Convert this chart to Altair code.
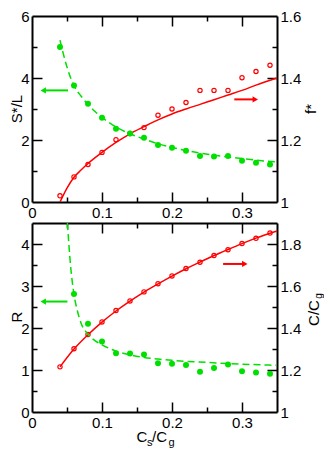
import altair as alt
import pandas as pd

# ---------------- data ----------------
# top panel
top_x_pts = [0.04, 0.06, 0.08, 0.10, 0.12, 0.14, 0.16, 0.18, 0.20, 0.22, 0.24, 0.26, 0.28, 0.30, 0.32, 0.34]
top_S_pts = [5.00, 3.76, 3.17, 2.72, 2.36, 2.21, 2.07, 1.84, 1.75, 1.65, 1.48, 1.47, 1.48, 1.33, 1.27, 1.21]
top_f_pts = [1.020, 1.081, 1.121, 1.160, 1.201, 1.221, 1.240, 1.280, 1.300, 1.321, 1.360, 1.360, 1.360, 1.401, 1.421, 1.441]

top_S_curve_x = [0.04, 0.05, 0.06, 0.07, 0.08, 0.09, 0.10, 0.12, 0.14, 0.16, 0.18, 0.20, 0.22, 0.24, 0.26, 0.28, 0.30, 0.32, 0.35]
top_S_curve_y = [5.22, 4.35, 3.75, 3.42, 3.15, 2.92, 2.73, 2.42, 2.20, 2.03, 1.88, 1.76, 1.66, 1.58, 1.51, 1.45, 1.40, 1.35, 1.29]

top_f_curve_x = [0.04, 0.05, 0.06, 0.07, 0.08, 0.10, 0.12, 0.14, 0.16, 0.18, 0.20, 0.22, 0.24, 0.26, 0.28, 0.30, 0.32, 0.35]
top_f_curve_y = [1.000, 1.045, 1.080, 1.103, 1.124, 1.160, 1.192, 1.220, 1.243, 1.265, 1.284, 1.300, 1.315, 1.330, 1.345, 1.360, 1.377, 1.400]

# bottom panel
bot_x_R_pts = [0.06, 0.08, 0.10, 0.12, 0.14, 0.16, 0.18, 0.20, 0.22, 0.24, 0.26, 0.28, 0.30, 0.32, 0.34]
bot_R_pts = [2.81, 2.10, 1.68, 1.40, 1.39, 1.37, 1.16, 1.15, 1.12, 0.96, 1.05, 1.13, 0.97, 0.94, 0.91]
bot_x_C_pts = [0.04, 0.06, 0.08, 0.10, 0.12, 0.14, 0.16, 0.18, 0.20, 0.22, 0.24, 0.26, 0.28, 0.30, 0.32, 0.34]
bot_C_pts = [1.215, 1.301, 1.369, 1.429, 1.483, 1.529, 1.572, 1.611, 1.648, 1.683, 1.713, 1.745, 1.773, 1.802, 1.827, 1.852]

bot_R_curve_x = [0.0506, 0.055, 0.06, 0.065, 0.07, 0.08, 0.09, 0.10, 0.12, 0.14, 0.16, 0.18, 0.20, 0.25, 0.30, 0.35]
bot_R_curve_y = [4.50, 3.50, 2.80, 2.40, 2.12, 1.85, 1.70, 1.60, 1.45, 1.36, 1.30, 1.26, 1.23, 1.18, 1.14, 1.11]

bot_C_curve_x = [0.04, 0.06, 0.08, 0.10, 0.12, 0.14, 0.16, 0.18, 0.20, 0.22, 0.24, 0.26, 0.28, 0.30, 0.32, 0.35]
bot_C_curve_y = [1.215, 1.300, 1.368, 1.428, 1.481, 1.528, 1.571, 1.610, 1.647, 1.682, 1.714, 1.745, 1.774, 1.802, 1.828, 1.862]

# arrows: [x_start, x_head], y level
top_green_arrow_x = [0.0514, 0.016]
top_green_arrow_y = 3.6
top_red_arrow_x = [0.289, 0.319]
top_red_arrow_y = 1.331
bot_green_arrow_x = [0.0506, 0.016]
bot_green_arrow_y = 2.63
bot_red_arrow_x = [0.273, 0.304]
bot_red_arrow_y = 1.705

# axis tick values
x_labels = [0, 0.1, 0.2, 0.3]
x_major = [0.1, 0.2, 0.3]
x_minor = [0.05, 0.15, 0.25]
S_labels = [0, 2, 4, 6]
S_major = [2, 4]
S_minor = [1, 3, 5]
f_labels = [1, 1.2, 1.4, 1.6]
f_major = [1.2, 1.4]
f_minor = [1.1, 1.3, 1.5]
R_labels = [0, 1, 2, 3, 4]
R_major = [1, 2, 3, 4]
R_minor = [0.5, 1.5, 2.5, 3.5]
C_labels = [1, 1.2, 1.4, 1.6, 1.8]
C_major = [1.2, 1.4, 1.6, 1.8]
C_minor = [1.1, 1.3, 1.5, 1.7]

# ---------------- layout ----------------
W = 245
H = 401
TOP_Y0 = 5
TOP_H = 191
BOT_Y0 = 212
FONT = "Liberation Sans"
RED = "#ff0000"
GREEN = "#00e000"
MAJ = 10
MIN = 5

XS = alt.Scale(domain=[0, 0.35], nice=False, zero=False)
S_SC = alt.Scale(domain=[0, 6], range=[TOP_H, TOP_Y0], nice=False, zero=False)
F_SC = alt.Scale(domain=[1, 1.6], range=[TOP_H, TOP_Y0], nice=False, zero=False)
R_SC = alt.Scale(domain=[0, 4.5], range=[H, BOT_Y0], nice=False, zero=False)
C_SC = alt.Scale(domain=[1, 1.9], range=[H, BOT_Y0], nice=False, zero=False)


def ax(orient, values, labels=False, ticks=True, size=MAJ, offset=0, domain=False):
    return alt.Axis(orient=orient, values=values, labels=labels, ticks=ticks,
                    tickSize=size if ticks else 0, domain=domain, offset=offset,
                    grid=False, title=None, tickWidth=1.5, tickColor="black",
                    domainColor="black", domainWidth=2, labelFont=FONT,
                    labelFontSize=15, labelColor="black", labelPadding=3,
                    labelFlush=False, labelOverlap=False, format="~g")


dummy = pd.DataFrame({"x": [0.0], "y": [1.0]})


def axis_layer(xaxis, yaxis, ysc):
    return alt.Chart(dummy).mark_point(opacity=0).encode(
        x=alt.X("x:Q", scale=XS, axis=xaxis),
        y=alt.Y("y:Q", scale=ysc, axis=yaxis))


layers = [
    # top panel axes
    axis_layer(ax("bottom", x_labels, labels=True, ticks=False, offset=-(H - TOP_H), domain=True),
               ax("left", S_labels, labels=True, ticks=False, domain=True), S_SC),
    axis_layer(ax("top", x_major, size=MAJ, offset=-TOP_H),
               ax("right", S_major, size=MAJ, offset=-W), S_SC),
    axis_layer(ax("top", x_minor, size=MIN, offset=-TOP_H),
               ax("right", S_minor, size=MIN, offset=-W), S_SC),
    axis_layer(ax("bottom", x_major, size=MAJ, offset=-(H - TOP_Y0), domain=True),
               ax("right", f_labels, labels=True, ticks=False, domain=True), F_SC),
    axis_layer(ax("bottom", x_minor, size=MIN, offset=-(H - TOP_Y0)),
               ax("left", f_major, size=MAJ, offset=-W), F_SC),
    axis_layer(None, ax("left", f_minor, size=MIN, offset=-W), F_SC),
    # bottom panel axes
    axis_layer(ax("bottom", x_labels, labels=True, ticks=False, offset=0, domain=True),
               ax("left", R_labels, labels=True, ticks=False, domain=True), R_SC),
    axis_layer(ax("top", x_major, size=MAJ, offset=-H),
               ax("right", R_major, size=MAJ, offset=-W), R_SC),
    axis_layer(ax("top", x_minor, size=MIN, offset=-H),
               ax("right", R_minor, size=MIN, offset=-W), R_SC),
    axis_layer(ax("bottom", x_major, size=MAJ, offset=-(H - BOT_Y0), domain=True),
               ax("right", C_labels, labels=True, ticks=False, domain=True), C_SC),
    axis_layer(ax("bottom", x_minor, size=MIN, offset=-(H - BOT_Y0)),
               ax("left", C_major, size=MAJ, offset=-W), C_SC),
    axis_layer(None, ax("left", C_minor, size=MIN, offset=-W), C_SC),
]


def line(xs, ys, ysc, color, dash=None, width=1.5):
    df = pd.DataFrame({"x": xs, "y": ys})
    kw = dict(color=color, strokeWidth=width, interpolate="monotone")
    if dash:
        kw["strokeDash"] = dash
    return alt.Chart(df).mark_line(**kw).encode(
        x=alt.X("x:Q", scale=XS, axis=None),
        y=alt.Y("y:Q", scale=ysc, axis=None))


def open_pts(xs, ys, ysc):
    df = pd.DataFrame({"x": xs, "y": ys})
    return alt.Chart(df).mark_point(shape="circle", filled=False, color=RED,
                                    size=18, strokeWidth=1.2, opacity=1).encode(
        x=alt.X("x:Q", scale=XS, axis=None),
        y=alt.Y("y:Q", scale=ysc, axis=None))


def dots(xs, ys, ysc):
    df = pd.DataFrame({"x": xs, "y": ys})
    return alt.Chart(df).mark_circle(color=GREEN, size=36, opacity=1).encode(
        x=alt.X("x:Q", scale=XS, axis=None),
        y=alt.Y("y:Q", scale=ysc, axis=None))


def arrow(xs, yv, ysc, color, shape):
    df = pd.DataFrame({"x": xs, "y": [yv, yv]})
    shaft = alt.Chart(df).mark_line(color=color, strokeWidth=2).encode(
        x=alt.X("x:Q", scale=XS, axis=None),
        y=alt.Y("y:Q", scale=ysc, axis=None))
    head = alt.Chart(df.iloc[[1]]).mark_point(shape=shape, filled=True, color=color,
                                              size=40, opacity=1).encode(
        x=alt.X("x:Q", scale=XS, axis=None),
        y=alt.Y("y:Q", scale=ysc, axis=None))
    return [shaft, head]


layers += [
    line(top_f_curve_x, top_f_curve_y, F_SC, RED),
    open_pts(top_x_pts, top_f_pts, F_SC),
    line(top_S_curve_x, top_S_curve_y, S_SC, GREEN, dash=[7, 4]),
    dots(top_x_pts, top_S_pts, S_SC),
    line(bot_C_curve_x, bot_C_curve_y, C_SC, RED),
    open_pts(bot_x_C_pts, bot_C_pts, C_SC),
    line(bot_R_curve_x, bot_R_curve_y, R_SC, GREEN, dash=[7, 4]),
    dots(bot_x_R_pts, bot_R_pts, R_SC),
]
layers += arrow(top_green_arrow_x, top_green_arrow_y, S_SC, GREEN, "triangle-left")
layers += arrow(top_red_arrow_x, top_red_arrow_y, F_SC, RED, "triangle-right")
layers += arrow(bot_green_arrow_x, bot_green_arrow_y, R_SC, GREEN, "triangle-left")
layers += arrow(bot_red_arrow_x, bot_red_arrow_y, C_SC, RED, "triangle-right")

one = pd.DataFrame({"a": [0]})


def txt(s, x, y, size=15, angle=0, align="center", baseline="middle"):
    return alt.Chart(one).mark_text(font=FONT, fontSize=size, color="black", angle=angle,
                                    align=align, baseline=baseline).encode(
        x=alt.value(x), y=alt.value(y), text=alt.value(s))


layers += [
    txt("S*/L", -15.5, 98, angle=270),
    txt("f*", 279, 98, angle=270),
    txt("R", -15.5, 306, angle=270),
    txt("C/C", 287, 302, angle=270, baseline="alphabetic"),
    txt("g", 289.5, 285, size=10, angle=270, baseline="alphabetic"),
    txt("C", 104.5, 430.7, align="left", baseline="alphabetic"),
    txt("s", 115, 434.5, size=11, align="left", baseline="alphabetic"),
    txt("/C", 120, 430.7, align="left", baseline="alphabetic"),
    txt("g", 136.5, 434.5, size=11, align="left", baseline="alphabetic"),
]

chart = alt.layer(*layers).resolve_scale(y="independent").resolve_axis(
    x="independent", y="independent").properties(
    width=W, height=H,
    autosize=alt.AutoSizeParams(type="none"),
    padding={"left": 24, "top": 3, "right": 47, "bottom": 36},
).configure_view(strokeOpacity=0)

chart.save("out.html", embed_options={"renderer": "svg", "actions": False})
